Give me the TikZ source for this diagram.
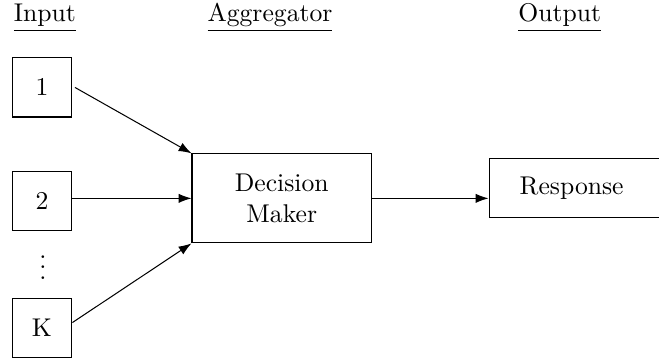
\documentclass[tikz,border=0pt]{standalone}
\usepackage{amsmath,amssymb}
\usepackage{tikz}
\usetikzlibrary{arrows.meta,positioning,calc}

\begin{document}
\begin{tikzpicture}[
			header/.style={anchor=base, inner sep=0pt},
			inbox/.style={
					draw, minimum width=0.82cm, minimum height=0.81cm
				},
			maker/.style={
					draw, minimum width=2.46cm, minimum height=1.22cm,
					align=center
				},
			outbox/.style={
					draw, minimum height=0.81cm, text width=1.62cm,
					inner xsep=0.42cm, align=left
				},
			msg/.style={-{Latex[length=5pt,width=3.6pt]}}
		]

		\useasboundingbox (0,0) rectangle (9.03,-4.93);

		% Column headers
		\node[header] (hin)  at (0.616,-0.294) {\underline{Input}};
		\node[header] (hagg) at (3.70,-0.294)  {\underline{Aggregator}};
		\node[header] (hout) at (7.67,-0.294)  {\underline{Output}};

		% Inputs
		\node[inbox] (in1) at (0.575,-1.198) {1};
		\node[inbox] (in2) at (0.575,-2.759) {2};
		\node (dots) at (0.589,-3.56) {$\vdots$};
		\node[inbox] (inK) at (0.575,-4.490) {K};

		% Aggregator and output
		\node[maker] (dm) at (3.861,-2.718) {Decision\\Maker};
		\node[outbox, anchor=west] (resp) at (6.694,-2.581) {Response};

		% Connections
		\draw[msg] ([xshift=1pt]in1.east) -- (dm.north west);
		\draw[msg] (in2.east |- dm.west) -- (dm.west);
		\draw[msg] ([yshift=2pt]inK.east) -- (dm.south west);
		\draw[msg] (dm.east) -- (dm.east -| resp.west);

	\end{tikzpicture}
\end{document}
